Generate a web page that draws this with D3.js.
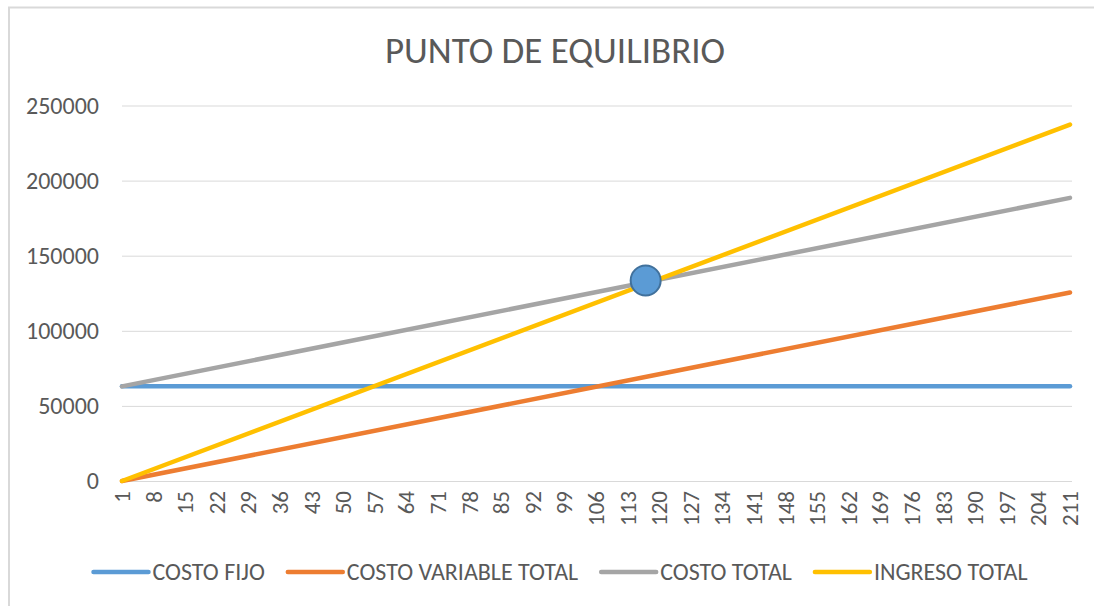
<!DOCTYPE html>
<html>
<head>
<meta charset="utf-8">
<script src="https://cdn.jsdelivr.net/npm/d3@7"></script>
<style>
  body { margin: 0; background: #fff; }
  svg { display: block; font-family: Carlito, Lato, "Open Sans", sans-serif; }
</style>
</head>
<body>
<svg width="1094" height="606"></svg>
<script>
// unidades (categorias del eje x)
const unidades = d3.range(1, 212)
const etiquetasX = [1, 8, 15, 22, 29, 36, 43, 50, 57, 64, 71, 78, 85, 92, 99, 106,
  113, 120, 127, 134, 141, 148, 155, 162, 169, 176, 183, 190, 197, 204, 211]
const ticksY = [0, 50000, 100000, 150000, 200000, 250000]

// rectas: valor en la primera y la ultima unidad
const extremos = [1, 211]
const costoFijo = [63000, 63000]
const costoVariable = [0, 125500]
const costoTotal = [63000, 188500]
const ingresoTotal = [0, 237300]

const equilibrio = { unidad: 117, valor: 133500 }

const series = [
  { nombre: "COSTO FIJO", valores: costoFijo, color: "#5B9BD5" },
  { nombre: "COSTO VARIABLE TOTAL", valores: costoVariable, color: "#ED7D31" },
  { nombre: "COSTO TOTAL", valores: costoTotal, color: "#A5A5A5" },
  { nombre: "INGRESO TOTAL", valores: ingresoTotal, color: "#FFC000" }
]

const svg = d3.select("svg")
const textColor = "#595959"

// borde del grafico
svg.append("path")
  .attr("d", "M9,606 V7.5 H1094")
  .attr("fill", "none")
  .attr("stroke", "#D9D9D9")
  .attr("stroke-width", 2)

const x = d3.scalePoint().domain(unidades).range([122, 1070])
const y = d3.scaleLinear().domain([0, 250000]).range([481, 105.5])

svg.append("text")
  .attr("x", 555).attr("y", 63)
  .attr("text-anchor", "middle")
  .attr("fill", textColor)
  .style("font-size", "37px")
  .text("PUNTO DE EQUILIBRIO")

// rejilla + eje y
const yAxis = svg.append("g")
  .attr("transform", "translate(122,0)")
  .call(d3.axisLeft(y).tickValues(ticksY).tickFormat(d3.format("d")).tickSize(-950).tickPadding(23))
yAxis.select(".domain").remove()
yAxis.selectAll("line").attr("stroke", "#D9D9D9")
yAxis.selectAll("text").attr("fill", textColor).style("font-size", "24px")
  .style("font-family", "Carlito, Lato, sans-serif")

// etiquetas eje x
svg.append("g").selectAll("text")
  .data(etiquetasX)
  .enter().append("text")
  .attr("transform", function(d) { return "translate(" + x(d) + ",491) rotate(-90)" })
  .attr("dy", "0.35em")
  .attr("text-anchor", "end")
  .attr("fill", textColor)
  .style("font-size", "23px")
  .text(function(d) { return d })

const line = d3.line()
  .x(function(d) { return x(d[0]) })
  .y(function(d) { return y(d[1]) })

svg.append("g").selectAll("path")
  .data(series)
  .enter().append("path")
  .attr("d", function(s) { return line(extremos.map(function(u, i) { return [u, s.valores[i]] })) })
  .attr("fill", "none")
  .attr("stroke", function(s) { return s.color })
  .attr("stroke-width", 4.5)
  .attr("stroke-linecap", "round")

svg.append("circle")
  .attr("cx", x(equilibrio.unidad))
  .attr("cy", y(equilibrio.valor))
  .attr("r", 15)
  .attr("fill", "#5B9BD5")
  .attr("stroke", "#41719C")
  .attr("stroke-width", 2)

// leyenda
const legend = svg.append("g")
const items = legend.selectAll("g")
  .data(series)
  .enter().append("g")
items.append("line")
  .attr("x1", 0).attr("x2", 55)
  .attr("y1", 572).attr("y2", 572)
  .attr("stroke", function(s) { return s.color })
  .attr("stroke-width", 4.5)
  .attr("stroke-linecap", "round")
items.append("text")
  .attr("x", 59).attr("y", 572)
  .attr("dy", "0.35em")
  .attr("fill", textColor)
  .style("font-size", "24px")
  .text(function(s) { return s.nombre })

let pos = 0
const anchos = []
items.each(function() {
  const w = 59 + d3.select(this).select("text").node().getComputedTextLength()
  anchos.push(w)
})
const gap = 23
const total = d3.sum(anchos) + gap * (anchos.length - 1)
pos = 560.5 - total / 2
items.attr("transform", function(d, i) {
  const t = "translate(" + pos + ",0)"
  pos += anchos[i] + gap
  return t
})
</script>
</body>
</html>
